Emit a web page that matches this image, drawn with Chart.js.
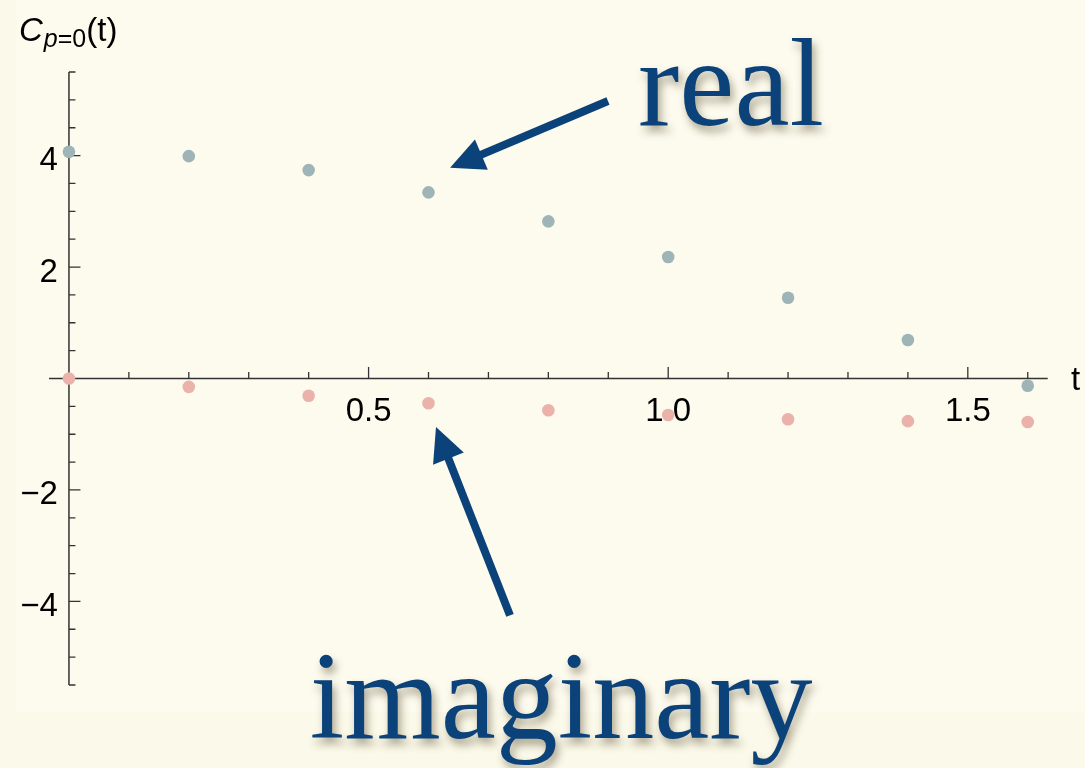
<!DOCTYPE html>
<html>
<head>
<meta charset="utf-8">
<title>C(t) correlator</title>
<script src="https://cdn.jsdelivr.net/npm/chart.js@4.4.1/dist/chart.umd.min.js"></script>
<style>
  html, body { margin: 0; padding: 0; background: #fbf9e9; }
  #wrap { width: 1085px; height: 768px; position: relative; }
</style>
</head>
<body>
<div id="wrap"><canvas id="corr" width="1085" height="768"></canvas></div>
<script>
// --- Data ---
const tValues    = [0, 0.2, 0.4, 0.6, 0.8, 1.0, 1.2, 1.4, 1.6];
const realValues = [4.07, 3.99, 3.74, 3.34, 2.82, 2.18, 1.45, 0.69, -0.13];
const imagValues = [0.0, -0.15, -0.31, -0.445, -0.57, -0.655, -0.73, -0.765, -0.78];

const xTickValues = [0.5, 1.0, 1.5];
const xTickLabels = ['0.5', '1.0', '1.5'];
const yTickValues = [-4, -2, 2, 4];
const yTickLabels = ['\u22124', '\u22122', '2', '4'];

const X_MIN = -0.0333, X_MAX = 1.6333;
const Y_MIN = -5.5, Y_MAX = 5.5;

const INK = '#0b4279';
const AXIS = '#333333';
const SANS = '"Liberation Sans", Arial, sans-serif';
const SERIF = '"Liberation Serif", "Times New Roman", serif';

function toPoints(ys) {
    return tValues.map((t, i) => ({ x: t, y: ys[i] }));
}

// --- Annotations (data coordinates) ---
const notes = {
    real: { text: 'real', at: [0.9497, 4.55], arrowFrom: [0.8995, 4.98], arrowTo: [0.636, 3.78] },
    imag: { text: 'imaginary', at: [0.402, -6.45], arrowFrom: [0.736, -4.25], arrowTo: [0.6125, -0.87] }
};

// --- Helper: draw a filled arrow ---
function arrow(ctx, x1, y1, x2, y2) {
    const ang = Math.atan2(y2 - y1, x2 - x1);
    const headLen = 34, headHalf = 16.5;
    const bx = x2 - headLen * Math.cos(ang);
    const by = y2 - headLen * Math.sin(ang);
    ctx.save();
    ctx.strokeStyle = INK;
    ctx.fillStyle = INK;
    ctx.lineWidth = 8;
    ctx.beginPath();
    ctx.moveTo(x1, y1);
    ctx.lineTo(bx + 2 * Math.cos(ang), by + 2 * Math.sin(ang));
    ctx.stroke();
    ctx.beginPath();
    ctx.moveTo(x2, y2);
    ctx.lineTo(bx - headHalf * Math.sin(ang), by + headHalf * Math.cos(ang));
    ctx.lineTo(bx + headHalf * Math.sin(ang), by - headHalf * Math.cos(ang));
    ctx.closePath();
    ctx.fill();
    ctx.restore();
}

// --- Plugin: background, crossing axes, labels, annotations ---
const frame = {
    id: 'frame',
    beforeDraw(chart) {
        const ctx = chart.ctx;
        ctx.save();
        ctx.fillStyle = '#fbf9e9';
        ctx.fillRect(0, 0, chart.width, chart.height);
        ctx.fillStyle = '#fdfbee';
        ctx.fillRect(16, 0, chart.width - 16, 712);
        ctx.restore();
    },
    beforeDatasetsDraw(chart) {
        const ctx = chart.ctx;
        const xs = chart.scales.x, ys = chart.scales.y;
        const x0 = xs.getPixelForValue(0);
        const y0 = ys.getPixelForValue(0);
        ctx.save();
        ctx.strokeStyle = AXIS;
        ctx.lineWidth = 1.5;

        // axis lines
        ctx.beginPath();
        ctx.moveTo(xs.left, y0);
        ctx.lineTo(xs.right, y0);
        ctx.moveTo(x0, ys.top);
        ctx.lineTo(x0, ys.bottom);
        ctx.stroke();

        // x ticks every 0.1, pointing up
        ctx.lineWidth = 1.3;
        ctx.beginPath();
        for (let k = 1; k <= 16; k++) {
            const v = k / 10;
            const px = xs.getPixelForValue(v);
            const major = k % 5 === 0;
            ctx.moveTo(px, y0);
            ctx.lineTo(px, y0 - (major ? 11.5 : 6.5));
        }
        // y ticks every 0.5, pointing right
        for (let k = -11; k <= 11; k++) {
            if (k === 0) continue;
            const v = k / 2;
            const py = ys.getPixelForValue(v);
            const major = yTickValues.includes(v);
            ctx.moveTo(x0, py);
            ctx.lineTo(x0 + (major ? 11.5 : 6.5), py);
        }
        ctx.stroke();

        // tick labels
        ctx.fillStyle = '#000';
        ctx.font = '33px ' + SANS;
        ctx.textBaseline = 'alphabetic';
        ctx.textAlign = 'center';
        xTickValues.forEach((v, i) => {
            ctx.fillText(xTickLabels[i], xs.getPixelForValue(v), y0 + 42);
        });
        ctx.textAlign = 'right';
        yTickValues.forEach((v, i) => {
            ctx.fillText(yTickLabels[i], x0 - 11, ys.getPixelForValue(v) + 14.5);
        });

        // axis titles
        ctx.textAlign = 'left';
        ctx.fillText('t', 1071, 390);
        let cx = 19;
        ctx.font = 'italic 33px ' + SANS;
        ctx.fillText('C', cx, 41);
        cx += ctx.measureText('C').width + 1;
        ctx.font = 'italic 25px ' + SANS;
        ctx.fillText('p', cx, 47);
        cx += ctx.measureText('p').width;
        ctx.font = '25px ' + SANS;
        ctx.fillText('=0', cx, 47);
        cx += ctx.measureText('=0').width;
        ctx.font = '33px ' + SANS;
        ctx.fillText('(t)', cx, 41);
        ctx.restore();
    },
    afterDatasetsDraw(chart) {
        const ctx = chart.ctx;
        const xs = chart.scales.x, ys = chart.scales.y;
        const px = p => [xs.getPixelForValue(p[0]), ys.getPixelForValue(p[1])];
        Object.values(notes).forEach(n => {
            const [ax, ay] = px(n.arrowFrom);
            const [bx, by] = px(n.arrowTo);
            arrow(ctx, ax, ay, bx, by);

            const [tx, ty] = px(n.at);
            ctx.save();
            ctx.font = '124px ' + SERIF;
            ctx.textAlign = 'left';
            ctx.textBaseline = 'alphabetic';
            ctx.fillStyle = INK;
            ctx.shadowColor = 'rgba(70, 60, 30, 0.45)';
            ctx.shadowBlur = 9;
            ctx.shadowOffsetX = 3;
            ctx.shadowOffsetY = 6;
            ctx.fillText(n.text, tx, ty);
            ctx.restore();
        });
    }
};

// --- Chart setup ---
const chart = new Chart(document.getElementById('corr').getContext('2d'), {
    type: 'scatter',
    data: {
        datasets: [{
            label: 'Re C(t)',
            data: toPoints(realValues),
            backgroundColor: '#9fb4b7',
            borderWidth: 0,
            pointRadius: 6.3,
            clip: false
        }, {
            label: 'Im C(t)',
            data: toPoints(imagValues),
            backgroundColor: '#eab2ab',
            borderWidth: 0,
            pointRadius: 6.3,
            clip: false
        }]
    },
    options: {
        responsive: false,
        animation: false,
        layout: { padding: { left: 49, right: 37.3, top: 72, bottom: 83 } },
        scales: {
            x: { type: 'linear', min: X_MIN, max: X_MAX, display: false },
            y: { type: 'linear', min: Y_MIN, max: Y_MAX, display: false }
        },
        plugins: {
            legend: { display: false },
            tooltip: { enabled: false }
        }
    },
    plugins: [frame]
});
</script>
</body>
</html>
